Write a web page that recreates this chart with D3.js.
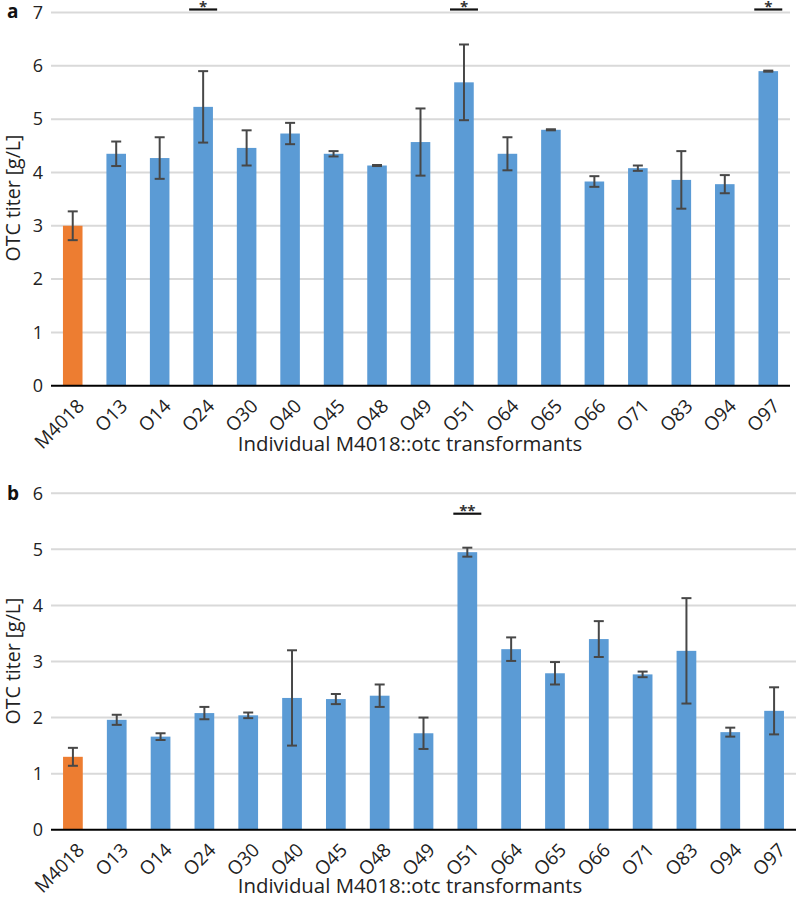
<!DOCTYPE html>
<html><head><meta charset="utf-8">
<script src="https://cdn.jsdelivr.net/npm/d3@7"></script>
<style>
html,body{margin:0;padding:0;background:#fff;}
svg{display:block;font-family:"Open Sans",sans-serif;}
</style></head>
<body>
<svg id="chart" width="797" height="900"></svg>
<script>
const categories = ["M4018","O13","O14","O24","O30","O40","O45","O48","O49","O51","O64","O65","O66","O71","O83","O94","O97"];
const valuesA = [3.00,4.35,4.27,5.23,4.46,4.73,4.35,4.13,4.57,5.69,4.35,4.80,3.83,4.08,3.86,3.78,5.90];
const errorsA = [0.27,0.23,0.39,0.67,0.33,0.20,0.05,0.01,0.63,0.71,0.31,0.01,0.10,0.05,0.54,0.17,0.01];
const valuesB = [1.30,1.96,1.66,2.08,2.04,2.35,2.33,2.39,1.72,4.95,3.22,2.79,3.40,2.77,3.19,1.74,2.12];
const errorsB = [0.16,0.09,0.06,0.11,0.05,0.85,0.09,0.20,0.28,0.08,0.21,0.20,0.32,0.05,0.94,0.08,0.42];
const sigCatsA = ["O24","O51","O97"];
const sigLabelsA = ["*","*","*"];
const sigCatsB = ["O51"];
const sigLabelsB = ["**"];
const ticksA = [0,1,2,3,4,5,6,7];
const ticksB = [0,1,2,3,4,5,6];
const yTitle = "OTC titer [g/L]";
const xTitle = "Individual M4018::otc transformants";
const panelLabels = ["a","b"];

const svg = d3.select("#chart");
const blue = "#5b9bd5", orange = "#ed7d31";

function panel(cfg){
  const g = svg.append("g");
  const x = d3.scaleBand().domain(categories).range([cfg.x0, cfg.x1]).paddingInner(0.55).paddingOuter(0.275);
  const y = d3.scaleLinear().domain([0, cfg.ymax]).range([cfg.yb, cfg.yt]);
  // gridlines
  g.append("g").selectAll("line").data(cfg.ticks.filter(t=>t>0)).join("line")
    .attr("x1", cfg.x0).attr("x2", cfg.x1)
    .attr("y1", d=>y(d)).attr("y2", d=>y(d))
    .attr("stroke", "#d9d9d9").attr("stroke-width", 2);
  // y tick labels
  const yAxis = d3.axisLeft(y).tickValues(cfg.ticks).tickSize(0).tickPadding(8).tickFormat(d3.format("d"));
  const ya = g.append("g").attr("transform", `translate(${cfg.x0},0)`).call(yAxis);
  ya.select(".domain").remove();
  ya.selectAll("text").attr("font-size", 18).attr("fill", "#222").attr("font-family", "Open Sans");
  // bars
  g.append("g").selectAll("rect").data(cfg.values).join("rect")
    .attr("x", (d,i)=>x(categories[i]))
    .attr("width", x.bandwidth())
    .attr("y", d=>y(d))
    .attr("height", d=>y(0)-y(d))
    .attr("fill", (d,i)=> i===0 ? orange : blue);
  // error bars
  const eb = g.append("g").attr("stroke", "#474747").attr("stroke-width", 2);
  cfg.values.forEach((v,i)=>{
    const cx = x(categories[i]) + x.bandwidth()/2;
    const hi = y(v + cfg.errors[i]), lo = y(v - cfg.errors[i]);
    eb.append("line").attr("x1",cx).attr("x2",cx).attr("y1",hi).attr("y2",lo);
    eb.append("line").attr("x1",cx-5).attr("x2",cx+5).attr("y1",hi).attr("y2",hi);
    eb.append("line").attr("x1",cx-5).attr("x2",cx+5).attr("y1",lo).attr("y2",lo);
  });
  // x axis
  const xAxis = d3.axisBottom(x).tickSize(0).tickPadding(0);
  const xa = g.append("g").attr("transform", `translate(0,${cfg.yb})`).call(xAxis);
  xa.select(".domain").attr("stroke", "#000").attr("stroke-width", 2).attr("d", `M${cfg.x0},0H${cfg.x1}`);
  xa.selectAll("text")
    .attr("font-size", 19).attr("fill", "#222").attr("font-family", "Open Sans")
    .attr("text-anchor", "end").attr("dy", null).attr("y", 0)
    .attr("transform", "translate(9,18) rotate(-45)")
    .attr("dominant-baseline", "middle");
  // significance
  cfg.sigCats.forEach((c,k)=>{
    const cx = x(c) + x.bandwidth()/2;
    g.append("line").attr("x1", cx-14).attr("x2", cx+14).attr("y1", cfg.sigY).attr("y2", cfg.sigY)
      .attr("stroke", "#111").attr("stroke-width", 2.2);
    g.append("text").attr("x", cx).attr("y", cfg.sigY+cfg.starDy).attr("text-anchor","middle")
      .attr("font-size", 15).attr("font-weight","bold").attr("fill","#333").text(cfg.sigLabels[k]);
  });
  // panel label
  g.append("text").attr("x", 7).attr("y", cfg.labelY).attr("font-size", 19).attr("font-weight","bold")
    .attr("font-family","Open Sans").attr("fill","#111").text(cfg.label);
  // y title
  g.append("text").attr("transform", `translate(20,${cfg.yTitleY}) rotate(-90)`)
    .attr("text-anchor","middle").attr("font-size", 19.5).attr("fill","#222").text(yTitle);
  // x title
  g.append("text").attr("x", cfg.xTitleX).attr("y", cfg.xTitleY).attr("text-anchor","middle")
    .attr("font-size", 20.4).attr("fill","#222").text(xTitle);
}

panel({x0:51, x1:790, yb:385.7, yt:12.5, ymax:7, ticks:ticksA, values:valuesA, errors:errorsA,
  sigCats:sigCatsA, sigLabels:sigLabelsA, sigY:9.5, starDy:2, label:panelLabels[0], labelY:18, yTitleY:198, xTitleX:410, xTitleY:451});
panel({x0:51, x1:796, yb:829.7, yt:493.3, ymax:6, ticks:ticksB, values:valuesB, errors:errorsB,
  sigCats:sigCatsB, sigLabels:sigLabelsB, sigY:513.7, starDy:2.5, label:panelLabels[1], labelY:500, yTitleY:661, xTitleX:410, xTitleY:893});
</script>
</body></html>
